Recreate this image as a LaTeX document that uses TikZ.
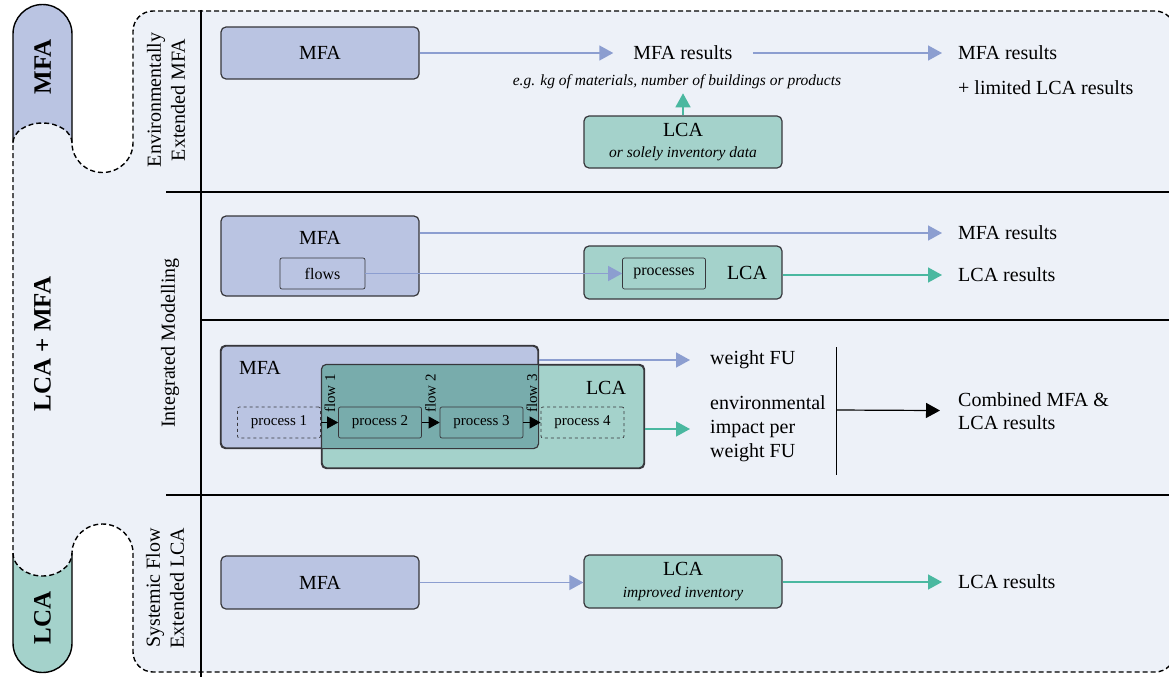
\documentclass[tikz,border=0pt]{standalone}
\usepackage{fontspec}
\setmainfont{Liberation Serif}
\usetikzlibrary{arrows.meta}
\definecolor{panel}{RGB}{237,241,248}
\definecolor{mfablue}{RGB}{186,196,226}
\definecolor{lcagreen}{RGB}{164,210,203}
\definecolor{overlap}{RGB}{120,172,172}
\definecolor{edge}{RGB}{55,55,60}
\definecolor{flowblue}{RGB}{140,158,208}
\definecolor{flowgreen}{RGB}{74,184,160}
\newcommand\notefont{\fontsize{15.5}{18}\selectfont\itshape}
\begin{document}
\begin{tikzpicture}[x=1pt,y=-1pt,>={Triangle[length=14pt,width=15pt]},
  boxbase/.style={draw=edge,line width=1.2pt,rounded corners=5pt,inner sep=0pt,align=center,font=\fontsize{20}{24}\selectfont},
  mfabox/.style={boxbase,fill=mfablue,minimum width=198pt},
  lcabox/.style={boxbase,fill=lcagreen,minimum width=198pt},
  inbox/.style={draw=edge,line width=0.7pt,rounded corners=2pt,minimum height=31pt,inner sep=0pt,font=\fontsize{16}{18}\selectfont},
  procbox/.style={inbox,minimum width=83pt,font=\fontsize{15}{18}\selectfont},
  txt/.style={inner sep=0pt,font=\fontsize{20}{24}\selectfont},
  res/.style={txt,anchor=west,align=left,inner xsep=16pt},
  note/.style={inner sep=0pt,font=\notefont},
  flowtxt/.style={rotate=90,anchor=west,inner sep=0pt,font=\fontsize{15}{18}\selectfont},
  sidetext/.style={rotate=90,align=center,inner sep=0pt,font=\fontsize{20}{24}\selectfont},
  tabtext/.style={rotate=90,inner sep=0pt,font=\fontsize{25}{30}\selectfont\bfseries},
  blue arrow/.style={draw=flowblue,line width=1.5pt,->},
  green arrow/.style={draw=flowgreen,line width=1.5pt,->},
  black arrow/.style={draw=black,line width=1.2pt,->},
  step arrow/.style={draw=black,line width=0.7pt,-{Triangle[length=11pt,width=12pt]}},
  divider/.style={line width=2.4pt},
  outline/.style={draw=black,line width=1.4pt,dash pattern=on 5pt off 3pt}]
\clip (0,0) rectangle (1169,677);
\fill[white] (0,0) rectangle (1169,677);
% light panel with the two notches
\fill[panel] (1155,11) -- (153,11) arc[start angle=270,end angle=180,radius=20]
  -- (133,143) arc[start angle=0,end angle=180,x radius=30.5,y radius=29.5]
  arc[start angle=0,end angle=-180,x radius=29.5,y radius=20]
  -- (13,553) arc[start angle=180,end angle=0,x radius=29.5,y radius=23]
  arc[start angle=180,end angle=360,x radius=30.5,y radius=29]
  -- (133,652) arc[start angle=180,end angle=90,radius=20]
  -- (1155,672) arc[start angle=90,end angle=0,radius=20]
  -- (1175,31) arc[start angle=0,end angle=-90,radius=20] -- cycle;
\fill[mfablue] (13,143) -- (13,34) arc[start angle=180,end angle=360,radius=29.5]
  -- (72,143) arc[start angle=0,end angle=-180,x radius=29.5,y radius=20] -- cycle;
\fill[lcagreen] (13,553) -- (13,643) arc[start angle=180,end angle=0,radius=29.5]
  -- (72,553) arc[start angle=0,end angle=180,x radius=29.5,y radius=23] -- cycle;
\draw[outline] (1155,11) -- (153,11) arc[start angle=270,end angle=180,radius=20]
  -- (133,143) arc[start angle=0,end angle=180,x radius=30.5,y radius=29.5]
  arc[start angle=0,end angle=-180,x radius=29.5,y radius=20]
  -- (13,553) arc[start angle=180,end angle=0,x radius=29.5,y radius=23]
  arc[start angle=180,end angle=360,x radius=30.5,y radius=29]
  -- (133,652) arc[start angle=180,end angle=90,radius=20]
  -- (1155,672) arc[start angle=90,end angle=0,radius=20]
  -- (1175,31) arc[start angle=0,end angle=-90,radius=20] -- cycle;
\draw[line width=1.4pt] (13,143) -- (13,34) arc[start angle=180,end angle=360,radius=29.5] -- (72,143);
\draw[line width=1.4pt] (13,553) -- (13,643) arc[start angle=180,end angle=0,radius=29.5] -- (72,553);
\node[tabtext] (tabmfa) at (42.5,67) {MFA};
\node[tabtext] (tabboth) at (42.5,344) {LCA + MFA};
\node[tabtext] (tablca) at (42.5,618) {LCA};
\draw[divider] (201,10) -- (201,677);
\draw[divider] (166,192) -- (1169,192);
\draw[divider] (201,320) -- (1169,320);
\draw[divider] (166,495) -- (1169,495);
\node[sidetext] (sideA) at (166,100) {Environmentally\\Extended MFA};
\node[sidetext] (sideB) at (170,343) {Integrated Modelling};
\node[sidetext] (sideC) at (165,588) {Systemic Flow\\Extended LCA};

\begin{scope}
\node[mfabox,minimum height=52pt] (mfaA) at (320,53) {MFA};
\node[txt,inner xsep=20pt] (resA) at (683,53) {MFA results};
\node[note] (egA) at (677,82) {e.g. kg of materials, number of buildings or products};
\node[lcabox,minimum height=52pt] (lcaA) at (683,142) {LCA\\[-3pt]{\notefont or solely inventory data}};
\node[res] (resB) at (942,53) {MFA results};
\node[res] (limB) at (942,88) {+ limited LCA results};
\draw[blue arrow] (mfaA) -- (resA);
\draw[blue arrow] (resA) -- (resB);
\draw[green arrow,shorten >=4pt] (lcaA.north) -- (lcaA.north |- egA.south);
\end{scope}

\begin{scope}
\node[mfabox,minimum height=80pt] (mfaB) at (320,256) {};
\node[txt] (mfaBt) at (320,238) {MFA};
\node[inbox,minimum width=85pt] (flows) at (322.5,273.5) {flows};
\node[lcabox,minimum height=53pt] (lcaB) at (683,272.5) {};
\node[inbox,minimum width=83pt] (procs) at (664,273.5) {processes};
\node[txt] (lcaBt) at (747,273) {LCA};
\node[res] (resC) at (942,233) {MFA results};
\node[res] (resD) at (942,275) {LCA results};
\draw[blue arrow] (mfaB.east |- resC) -- (resC);
\draw[blue arrow] (flows) -- (procs);
\draw[green arrow] (lcaB.east |- resD) -- (resD);
\end{scope}

\begin{scope}
\node[mfabox,minimum width=317pt,minimum height=102pt] (mfaC) at (379.5,397) {};
\node[lcabox,minimum width=322pt,minimum height=103pt] (lcaC) at (483,416.5) {};
\begin{scope}
\clip[rounded corners=5pt] (lcaC.south west) rectangle (lcaC.north east);
\fill[overlap,rounded corners=5pt] (mfaC.south west) rectangle (mfaC.north east);
\end{scope}
\draw[edge,line width=1.2pt,rounded corners=5pt] (mfaC.south west) rectangle (mfaC.north east);
\draw[edge,line width=1.2pt,rounded corners=5pt] (lcaC.south west) rectangle (lcaC.north east);
\node[txt] (mfaCt) at (260,368) {MFA};
\node[txt] (lcaCt) at (606,388) {LCA};
\node[procbox,dashed] (p1) at (279,422.5) {process 1};
\node[procbox] (p2) at (380,422.5) {process 2};
\node[procbox] (p3) at (481.5,422.5) {process 3};
\node[procbox,dashed] (p4) at (582.5,422.5) {process 4};
\draw[step arrow] (p1) -- (p2);
\draw[step arrow] (p2) -- (p3);
\draw[step arrow] (p3) -- (p4);
\node[flowtxt] (f1) at (330,413) {flow 1};
\node[flowtxt] (f2) at (430.5,413) {flow 2};
\node[flowtxt] (f3) at (532,413) {flow 3};
\node[res,inner xsep=20pt] (wfu) at (690,360) {weight FU};
\node[res,inner xsep=20pt] (env) at (690,429) {environmental\\impact per\\weight FU};
\draw[blue arrow] (mfaC.east |- wfu) -- (wfu);
\draw[green arrow] (lcaC.east |- env) -- (env);
\draw[line width=0.8pt] (836,347) -- (836,475);
\coordinate (split) at (836,410);
\node[res,inner xsep=18pt] (combo) at (940,411) {Combined MFA \&\\[-1pt]LCA results};
\draw[black arrow] (split) -- (combo);
\end{scope}

\begin{scope}
\node[mfabox,minimum height=53pt] (mfaD) at (320,582.5) {MFA};
\node[lcabox,minimum height=53pt] (lcaD) at (683,581.5) {LCA\\[-2pt]{\notefont improved inventory}};
\node[res] (resE) at (942,582) {LCA results};
\draw[blue arrow] (mfaD.east) -- (mfaD.east -| lcaD.west);
\draw[green arrow] (lcaD.east |- resE) -- (resE);
\end{scope}
\end{tikzpicture}
\end{document}
